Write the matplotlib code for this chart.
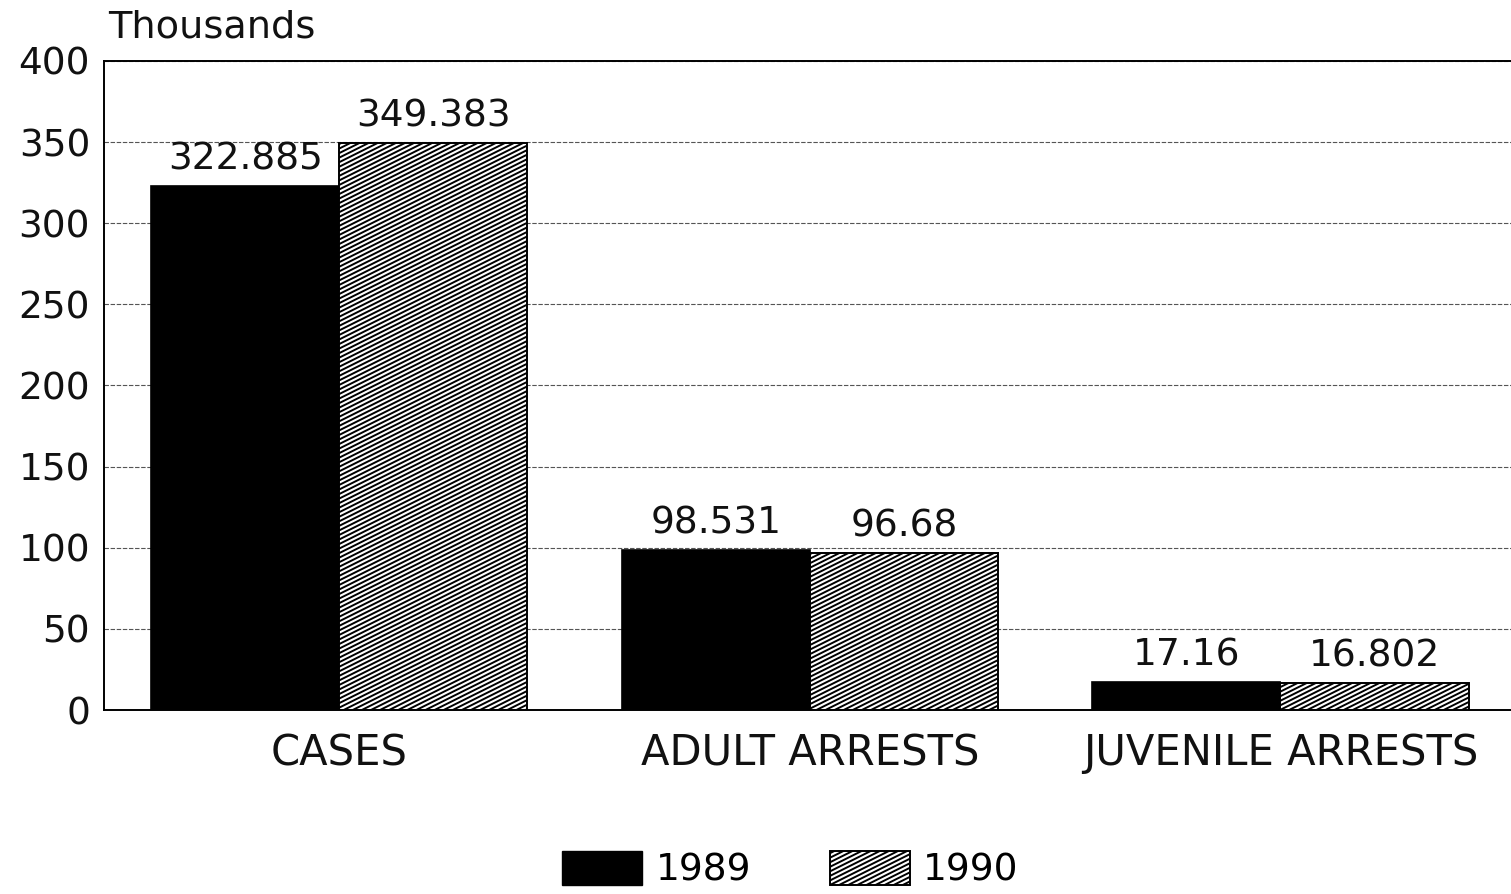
import warnings
import matplotlib
matplotlib.use("Agg")
import matplotlib.pyplot as plt
import numpy as np
from matplotlib.patches import Patch
from matplotlib import hatch as mhatch
from matplotlib.path import Path

warnings.filterwarnings("ignore")

categories = ["CASES", "ADULT ARRESTS", "JUVENILE ARRESTS"]
values_1989 = [322.885, 98.531, 17.16]
values_1990 = [349.383, 96.68, 16.802]
labels_1989 = ["322.885", "98.531", "17.16"]
labels_1990 = ["349.383", "96.68", "16.802"]
yticks = [0, 50, 100, 150, 200, 250, 300, 350, 400]
series_names = ["1989", "1990"]


class ShallowHatch(mhatch.HatchPatternBase):
    """Diagonal hatch with a shallow (~27 degree) slope, like the original print."""
    N = 22

    def __init__(self, hatch, density):
        if hatch.count('z'):
            self.offsets = -0.5 + np.arange(int(1.5 * self.N) + 2) / self.N
        else:
            self.offsets = np.array([])
        self.num_lines = len(self.offsets)
        self.num_vertices = self.num_lines * 2

    def set_vertices_and_codes(self, vertices, codes):
        x0, x1 = -0.1, 1.1
        for i, c in enumerate(self.offsets):
            vertices[2 * i] = (x0, c + 0.5 * x0)
            vertices[2 * i + 1] = (x1, c + 0.5 * x1)
            codes[2 * i] = Path.MOVETO
            codes[2 * i + 1] = Path.LINETO


mhatch._hatch_types.append(ShallowHatch)
mhatch._validate_hatch_pattern = lambda h: None

plt.rcParams['font.family'] = ['DejaVu Sans']
plt.rcParams['hatch.linewidth'] = 1.4

fig = plt.figure(figsize=(15.11, 8.94), dpi=100)
ax = fig.add_axes([0.0688, 0.2058, 0.9312, 0.726])

x = np.arange(len(categories))
w = 0.4
ax.bar(x - w/2, values_1989, w, color='black', edgecolor='black', linewidth=1.2, zorder=3)
ax.bar(x + w/2, values_1990, w, color='white', edgecolor='black', hatch='z', linewidth=1.4, zorder=3)

for xi, v, t in zip(x - w/2, values_1989, labels_1989):
    ax.annotate(t, (xi, v), xytext=(0, 12), textcoords='offset points',
                ha='center', va='baseline', fontsize=27, color='#111111')
for xi, v, t in zip(x + w/2, values_1990, labels_1990):
    ax.annotate(t, (xi, v), xytext=(0, 12), textcoords='offset points',
                ha='center', va='baseline', fontsize=27, color='#111111')

ax.set_ylim(0, 400)
ax.set_xlim(-0.5, 2.49)
ax.set_yticks(yticks)
ax.set_yticklabels([str(t) for t in yticks], fontsize=27, color='#111111')
ax.set_xticks(x)
ax.set_xticklabels(categories, fontsize=30, color='#111111')
ax.tick_params(axis='x', length=0, pad=16)
ax.tick_params(axis='y', length=0, pad=10)

ax.grid(axis='y', linestyle=(0, (4, 1.5)), color='#555555', linewidth=0.8, zorder=0)
ax.spines['right'].set_visible(False)
ax.spines['top'].set_linewidth(1.4)
ax.spines['left'].set_linewidth(1.4)
ax.spines['bottom'].set_linewidth(1.4)

fig.text(108 / 1511, 1 - 37 / 894, "Thousands", fontsize=27.5, ha='left', va='baseline', color='#111111')

handles = [Patch(facecolor='black', edgecolor='black'),
           Patch(facecolor='white', edgecolor='black', hatch='z', linewidth=1.4)]
fig.legend(handles, series_names, loc='center', bbox_to_anchor=(0.523, 0.027),
           ncol=2, frameon=False, fontsize=27, handlelength=2.13, handleheight=1.0,
           columnspacing=2.1, handletextpad=0.35, borderpad=0, borderaxespad=0)

fig.savefig("out.png", dpi=100)
